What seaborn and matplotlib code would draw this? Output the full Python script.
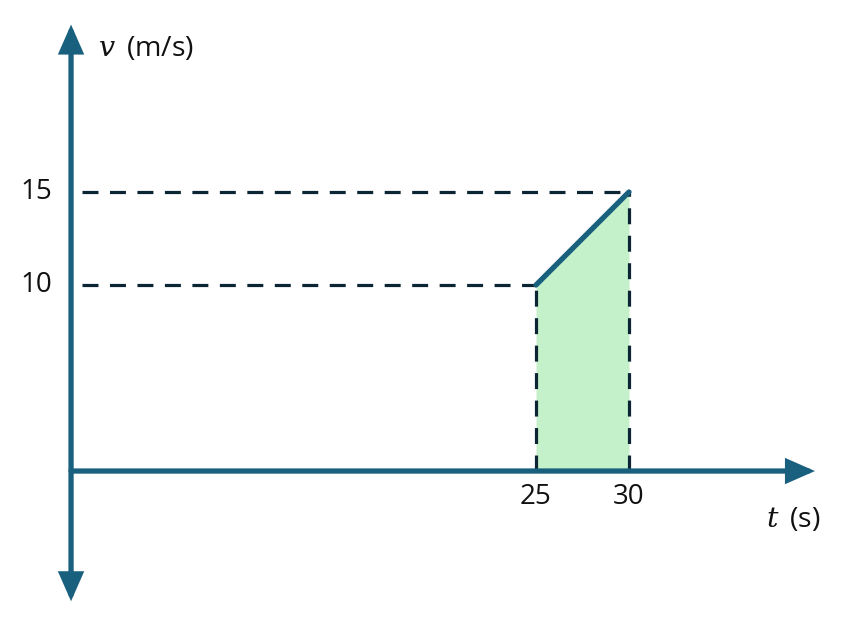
import matplotlib
matplotlib.use("Agg")
import matplotlib.pyplot as plt
import seaborn as sns
import pandas as pd

# Data
t_values = [25, 30]
v_values = [10, 15]
x_ticks = [25, 30]
x_tick_labels = ["25", "30"]
y_ticks = [10, 15]
y_tick_labels = ["10", "15"]

sns.set_theme(style="white")
plt.rcParams["font.family"] = ["Open Sans", "DejaVu Sans"]
plt.rcParams["mathtext.fontset"] = "dejavuserif"

BLUE = "#19607f"
DASH = "#0b2535"
FILL = "#c4f1c9"

fig = plt.figure(figsize=(8.41, 6.26), dpi=100)
ax = fig.add_axes([0, 0, 1, 1])
ax.set_xlim(-3.82, 41.4)
ax.set_ylim(-8.33, 25.32)
ax.axis("off")

df = pd.DataFrame({"t": t_values, "v": v_values})

# shaded area
ax.fill_between(df["t"], 0, df["v"], color=FILL, lw=0, zorder=1)

# dashed guide lines
for t, v in zip(t_values, v_values):
    ax.plot([0.6, t], [v, v], color=DASH, lw=2.3, dashes=(5, 3.6), zorder=2)
    ax.plot([t, t], [0, v], color=DASH, lw=2.3, dashes=(5, 3.6), zorder=2)

# axes with arrows
style_r = "-|>,head_length=1.25,head_width=0.55"
style_b = "<|-|>,head_length=1.25,head_width=0.55"
ax.annotate("", xy=(40, 0), xytext=(0, 0),
            arrowprops=dict(arrowstyle=style_r, lw=3.8, color=BLUE,
                            shrinkA=0, shrinkB=0, joinstyle="miter"), zorder=3)
ax.annotate("", xy=(0, 24), xytext=(0, -7),
            arrowprops=dict(arrowstyle=style_b, lw=3.8, color=BLUE,
                            shrinkA=0, shrinkB=0, joinstyle="miter"), zorder=3)

# velocity line
sns.lineplot(data=df, x="t", y="v", ax=ax, color=BLUE, lw=3.8, zorder=4)

# tick labels
for yt, lab in zip(y_ticks, y_tick_labels):
    ax.text(-1.0, yt, lab, ha="right", va="center", fontsize=20, color="#111111")
for xt, lab in zip(x_ticks, x_tick_labels):
    ax.text(xt, -1.4, lab, ha="center", va="center", fontsize=20, color="#111111")

# axis labels
ax.text(1.45, 22.7, r"$v\,$ (m/s)", ha="left", va="center", fontsize=20.5, color="#111111")
ax.text(40.3, -2.65, r"$t\,$ (s)", ha="right", va="center", fontsize=20.5, color="#111111")

fig.savefig("out.png", dpi=100)
